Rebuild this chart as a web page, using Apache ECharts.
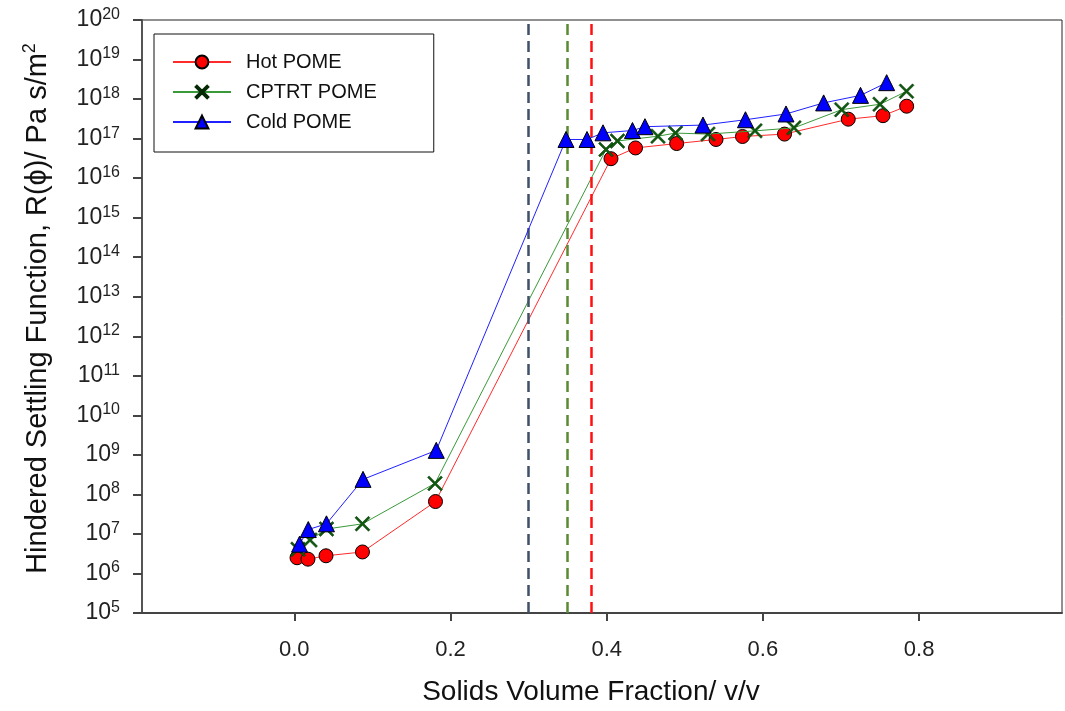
<!DOCTYPE html>
<html>
<head>
<meta charset="utf-8">
<title>Hindered Settling Function</title>
<script src="https://cdn.jsdelivr.net/npm/echarts@6.0.0/dist/echarts.min.js"></script>
<style>
  html, body { margin: 0; padding: 0; background: #fff; }
  #chart { width: 1065px; height: 711px; }
</style>
</head>
<body>
<div id="chart"></div>
<script>
// solids volume fraction (v/v) and R(phi) values
const hotX = [0.0035, 0.0175, 0.0406, 0.0873, 0.1808, 0.4055, 0.4369, 0.4896, 0.54, 0.5739, 0.6277, 0.7093, 0.7538, 0.7841];
const hotY = [2.5e6, 2.3e6, 2.8e6, 3.5e6, 6.6e7, 3.1e16, 5.8e16, 7.5e16, 9.5e16, 1.13e17, 1.3e17, 3.1e17, 3.8e17, 6.6e17];

const cptrtX = [0.0047, 0.0201, 0.0412, 0.0873, 0.1802, 0.3991, 0.4138, 0.4657, 0.4881, 0.5297, 0.5899, 0.6398, 0.7009, 0.75, 0.7839];
const cptrtY = [4.1e6, 7.0e6, 1.33e7, 1.8e7, 1.9e8, 5.3e16, 8.7e16, 1.15e17, 1.38e17, 1.3e17, 1.57e17, 1.87e17, 5.4e17, 7.4e17, 1.57e18];

const coldX = [0.0067, 0.0179, 0.0412, 0.088, 0.1818, 0.3479, 0.3748, 0.3953, 0.433, 0.449, 0.5233, 0.5777, 0.6296, 0.6778, 0.725, 0.7585];
const coldY = [5.5e6, 1.29e7, 1.8e7, 2.4e8, 1.3e9, 9.5e16, 9.5e16, 1.4e17, 1.6e17, 2.0e17, 2.2e17, 3.0e17, 4.2e17, 8.0e17, 1.24e18, 2.6e18];

// critical volume fractions (dashed lines): cold, cptrt, hot
const criticalX = [0.304, 0.350, 0.382];
const criticalColors = ['#3f5068', '#5a8a32', '#ff1010'];

const xTicks = [0, 0.2, 0.4, 0.6, 0.8];

const pairs = (xs, ys) => xs.map((x, i) => [x, ys[i]]);

const crossPath = 'path://M0,2 L2,0 L10,8 L18,0 L20,2 L12,10 L20,18 L18,20 L10,12 L2,20 L0,18 L8,10 Z';

const chart = echarts.init(document.getElementById('chart'));

const option = {
  animation: false,
  backgroundColor: '#fff',
  textStyle: { fontFamily: 'Liberation Sans, Arial, sans-serif' },
  grid: {
    left: 142,
    right: 3,
    top: 20,
    bottom: 97,
    show: true,
    borderColor: '#222',
    borderWidth: 1
  },
  legend: {
    orient: 'vertical',
    left: 154,
    top: 34,
    padding: [18, 57, 20, 18],
    backgroundColor: '#fff',
    borderColor: '#111',
    borderWidth: 1,
    itemWidth: 58,
    itemHeight: 16,
    itemGap: 10,
    textStyle: {
      fontSize: 20,
      color: '#111',
      lineHeight: 20,
      padding: [0, 0, 0, 10]
    },
    data: ['Hot POME', 'CPTRT POME', 'Cold POME']
  },
  xAxis: {
    type: 'value',
    min: -0.195,
    max: 0.983,
    name: 'Solids Volume Fraction/ v/v',
    nameLocation: 'middle',
    nameGap: 65,
    nameTextStyle: { fontSize: 28, color: '#111', padding: [0, 22, 0, 0] },
    axisLine: { onZero: false, lineStyle: { color: '#444', width: 2 } },
    axisTick: { length: 8, lineStyle: { color: '#444', width: 2 }, customValues: xTicks },
    axisLabel: {
      fontSize: 22,
      color: '#222',
      margin: 26,
      customValues: xTicks,
      formatter: v => v.toFixed(1)
    },
    splitLine: { show: false }
  },
  yAxis: {
    type: 'log',
    logBase: 10,
    min: 1e5,
    max: 1e20,
    interval: 1,
    splitNumber: 15,
    name: 'Hindered Settling Function, R(ϕ)/ Pa s/m{sup|2}',
    nameLocation: 'middle',
    nameRotate: 90,
    nameGap: 88,
    nameTextStyle: {
      fontSize: 29,
      color: '#111',
      padding: [0, 0, 0, 16],
      rich: {
        sup: { fontSize: 18, color: '#111', padding: [0, 0, 15, 0] }
      }
    },
    axisLine: { onZero: false, lineStyle: { color: '#555', width: 2 } },
    axisTick: { length: 9, lineStyle: { color: '#444', width: 2 } },
    axisLabel: {
      margin: 22,
      color: '#222',
      formatter: v => '{b|10}{s|' + Math.round(Math.log10(v)) + '}',
      rich: {
        b: { fontSize: 23, color: '#222' },
        s: { fontSize: 16, color: '#222', padding: [0, 0, 11, 0] }
      }
    },
    splitLine: { show: false }
  },
  series: [
    {
      name: 'Hot POME',
      type: 'line',
      data: pairs(hotX, hotY),
      symbol: 'circle',
      symbolSize: 14,
      lineStyle: { color: '#ff2a2a', width: 1 },
      itemStyle: { color: '#ff0000', borderColor: '#000', borderWidth: 1 },
      z: 3,
      markLine: {
        silent: true,
        symbol: 'none',
        label: { show: false },
        lineStyle: { type: [11, 6], width: 2.5 },
        data: criticalX.map((x, i) => ({ xAxis: x, lineStyle: { color: criticalColors[i] } }))
      }
    },
    {
      name: 'CPTRT POME',
      type: 'line',
      data: pairs(cptrtX, cptrtY),
      symbol: crossPath,
      symbolSize: 15,
      lineStyle: { color: '#3a9a3a', width: 1 },
      itemStyle: { color: '#0d5c0d', borderColor: '#052a05', borderWidth: 0.5 },
      z: 4
    },
    {
      name: 'Cold POME',
      type: 'line',
      data: pairs(coldX, coldY),
      symbol: 'triangle',
      symbolSize: 16,
      lineStyle: { color: '#2020ff', width: 1 },
      itemStyle: { color: '#0000ff', borderColor: '#000', borderWidth: 1 },
      z: 5
    }
  ]
};

chart.setOption(option);
</script>
</body>
</html>
